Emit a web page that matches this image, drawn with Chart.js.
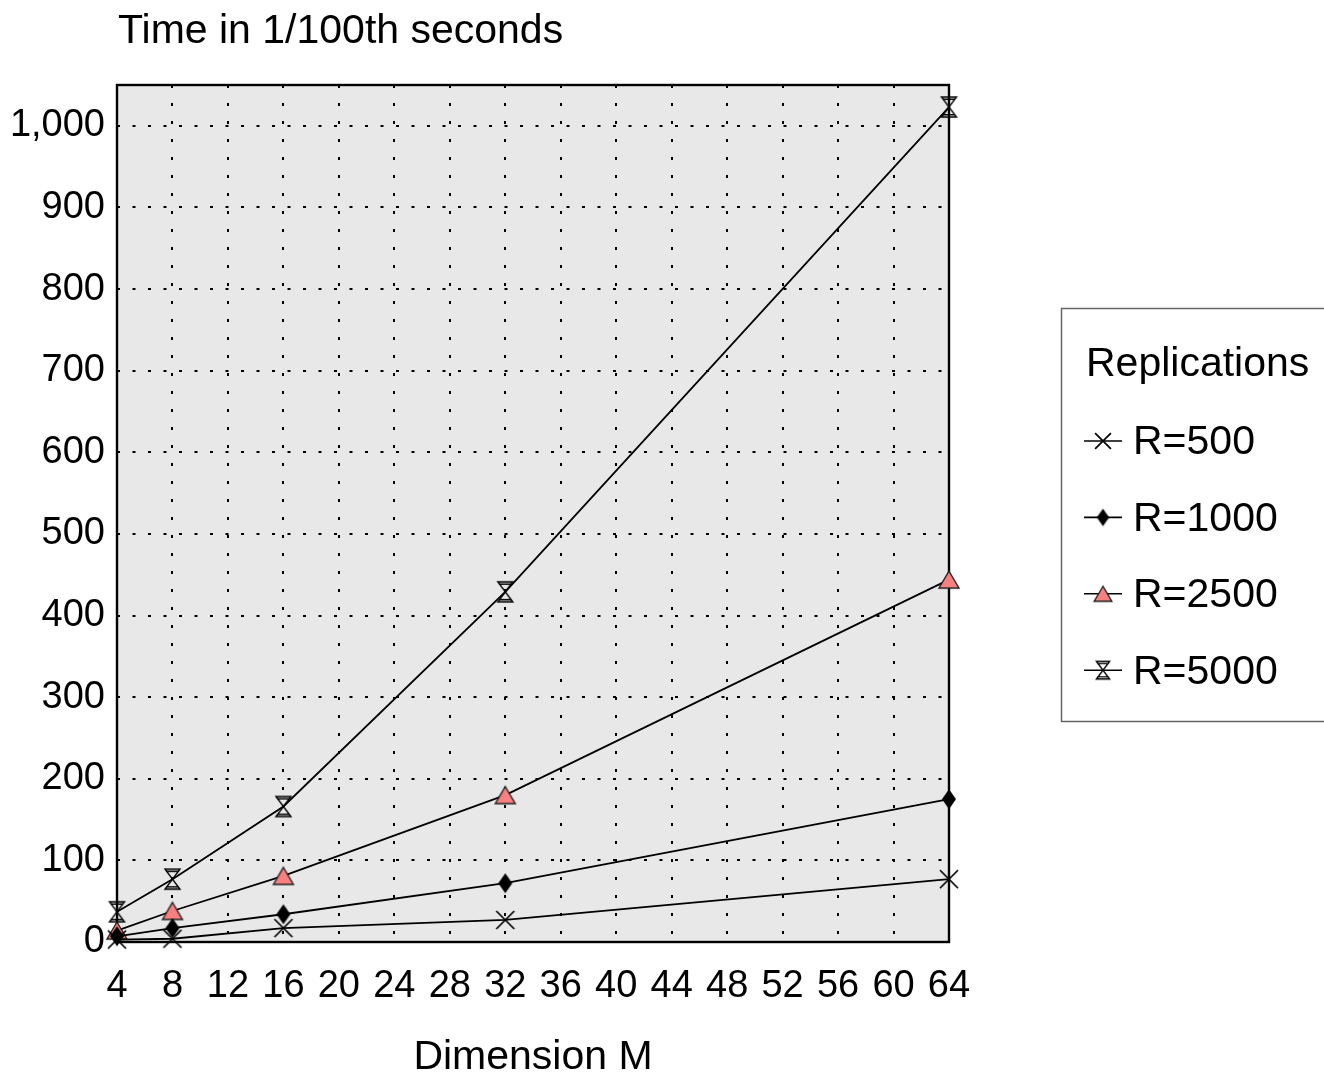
<!DOCTYPE html>
<html>
<head>
<meta charset="utf-8">
<script src="https://cdn.jsdelivr.net/npm/chart.js@4/dist/chart.umd.min.js"></script>
<style>
  html, body { margin: 0; padding: 0; background: #ffffff; }
  #wrap { width: 1324px; height: 1080px; }
</style>
</head>
<body>
<div id="wrap"><canvas id="c" width="1324" height="1080"></canvas></div>
<script>
// ---- data ----
const dimensions = [4, 8, 16, 32, 64];
const r500  = [3, 4, 17, 27, 77];
const r1000 = [7, 17, 34, 72, 175];
const r2500 = [14, 38, 81, 180, 444];
const r5000 = [37, 77, 166, 429, 1023];
const seriesLabels = ['R=500', 'R=1000', 'R=2500', 'R=5000'];
const yAxisTitle = 'Time in 1/100th seconds';
const xAxisTitle = 'Dimension M';
const legendTitle = 'Replications';
const xMin = 4, xMax = 64, xStep = 4;
const yMin = 0, yMax = 1050, yStep = 100;

const FONT = '"Liberation Sans", Arial, Helvetica, sans-serif';

// ---- marker images ----
function makeMarker(type, s) {
  const pad = 3;
  let w, h;
  if (type === 'cross') { w = 18 * s; h = 18 * s; }
  else if (type === 'diamond') { w = 14 * s; h = 20 * s; }
  else if (type === 'triangle') { w = 20 * s; h = 17 * s; }
  else { w = 15 * s; h = 20 * s; }
  const c = document.createElement('canvas');
  c.width = Math.ceil(w + pad * 2);
  c.height = Math.ceil(h + pad * 2);
  const ctx = c.getContext('2d');
  ctx.translate(c.width / 2, c.height / 2);
  ctx.lineJoin = 'miter';
  if (type === 'cross') {
    ctx.strokeStyle = '#000';
    ctx.lineWidth = 1.7;
    ctx.beginPath();
    ctx.moveTo(-w / 2, -h / 2); ctx.lineTo(w / 2, h / 2);
    ctx.moveTo(w / 2, -h / 2); ctx.lineTo(-w / 2, h / 2);
    ctx.stroke();
  } else if (type === 'diamond') {
    ctx.fillStyle = '#000';
    ctx.beginPath();
    ctx.moveTo(0, -h / 2); ctx.lineTo(w / 2, 0); ctx.lineTo(0, h / 2); ctx.lineTo(-w / 2, 0);
    ctx.closePath();
    ctx.fill();
  } else if (type === 'triangle') {
    ctx.fillStyle = 'rgb(248,128,128)';
    ctx.strokeStyle = '#222';
    ctx.lineWidth = 1.4;
    ctx.beginPath();
    ctx.moveTo(0, -h / 2); ctx.lineTo(w / 2, h / 2); ctx.lineTo(-w / 2, h / 2);
    ctx.closePath();
    ctx.fill(); ctx.stroke();
  } else {
    ctx.strokeStyle = '#000';
    ctx.lineWidth = 1.4;
    ctx.beginPath();
    ctx.moveTo(-w / 2, -h / 2); ctx.lineTo(w / 2, -h / 2);
    ctx.lineTo(-w / 2, h / 2); ctx.lineTo(w / 2, h / 2);
    ctx.closePath();
    ctx.stroke();
    ctx.beginPath();
    ctx.moveTo(-w / 2 + 1.3, -h / 2 + 2.2); ctx.lineTo(w / 2 - 1.3, -h / 2 + 2.2);
    ctx.moveTo(-w / 2 + 1.3, h / 2 - 2.2); ctx.lineTo(w / 2 - 1.3, h / 2 - 2.2);
    ctx.stroke();
  }
  return c;
}
const markerTypes = ['cross', 'diamond', 'triangle', 'hourglass'];
const markers = markerTypes.map(t => makeMarker(t, 1));
const legendMarkers = markerTypes.map(t => makeMarker(t, 0.88));

const seriesValues = [r500, r1000, r2500, r5000];
const datasets = seriesValues.map((vals, i) => ({
  label: seriesLabels[i],
  data: dimensions.map((d, j) => ({ x: d, y: vals[j] })),
  borderColor: '#000',
  borderWidth: 1.8,
  tension: 0,
  fill: false,
  pointStyle: markers[i],
  pointRadius: 10,
  pointHoverRadius: 10,
  clip: false
}));

// ---- plugins ----
const bgPlugin = {
  id: 'bg',
  beforeDraw(chart) {
    const a = chart.chartArea, ctx = chart.ctx;
    ctx.save();
    ctx.fillStyle = '#ffffff';
    ctx.fillRect(0, 0, chart.width, chart.height);
    ctx.fillStyle = '#e8e8e8';
    ctx.fillRect(a.left, a.top, a.right - a.left, a.bottom - a.top);
    ctx.restore();
  },
  beforeDatasetsDraw(chart) {
    const a = chart.chartArea, ctx = chart.ctx;
    ctx.save();
    ctx.strokeStyle = '#000';
    ctx.lineWidth = 2.4;
    ctx.strokeRect(a.left, a.top, a.right - a.left, a.bottom - a.top);
    ctx.restore();
  },
  afterDraw(chart) {
    const a = chart.chartArea, ctx = chart.ctx;
    ctx.save();
    // y axis title (horizontal, above plot)
    ctx.fillStyle = '#000';
    ctx.font = '41px ' + FONT;
    ctx.textBaseline = 'middle';
    ctx.textAlign = 'left';
    ctx.fillText(yAxisTitle, a.left + 1, 32);
    // legend box
    ctx.strokeStyle = '#666';
    ctx.lineWidth = 1.5;
    ctx.strokeRect(1061.5, 308.5, 300, 413);
    ctx.fillText(legendTitle, 1086, 365);
    const rowY0 = 441, rowDy = 76.4;
    chart.data.datasets.forEach((ds, i) => {
      const y = rowY0 + i * rowDy;
      ctx.strokeStyle = '#000';
      ctx.lineWidth = 1.6;
      ctx.beginPath();
      ctx.moveTo(1084, y); ctx.lineTo(1122, y);
      ctx.stroke();
      const m = legendMarkers[i];
      ctx.drawImage(m, 1103 - m.width / 2, y - m.height / 2);
      ctx.fillStyle = '#000';
      ctx.fillText(ds.label, 1133, y + 2);
    });
    ctx.restore();
  }
};

new Chart(document.getElementById('c'), {
  type: 'line',
  data: { datasets },
  plugins: [bgPlugin],
  options: {
    responsive: false,
    animation: false,
    events: [],
    layout: { padding: { left: 0, top: 85, right: 375, bottom: 0 } },
    plugins: { legend: { display: false }, tooltip: { enabled: false }, title: { display: false } },
    scales: {
      x: {
        type: 'linear',
        min: xMin, max: xMax,
        ticks: { stepSize: xStep, color: '#000', font: { family: FONT, size: 38 }, padding: 22, maxRotation: 0, autoSkip: false },
        grid: { color: '#000', lineWidth: 2, drawTicks: false },
        border: { display: false, dash: [3, 15] },
        title: { display: true, text: xAxisTitle, color: '#000', font: { family: FONT, size: 41, lineHeight: 1.1 }, padding: { top: 0, bottom: 0 } },
        afterFit(scale) { scale.height = 138; }
      },
      y: {
        type: 'linear',
        min: yMin, max: yMax,
        ticks: { stepSize: yStep, includeBounds: false, color: '#000', font: { family: FONT, size: 38 }, padding: 12 },
        grid: { color: '#000', lineWidth: 2, drawTicks: false },
        border: { display: false, dash: [3, 12.5] },
        afterFit(scale) { scale.width = 117; }
      }
    }
  }
});
</script>
</body>
</html>
